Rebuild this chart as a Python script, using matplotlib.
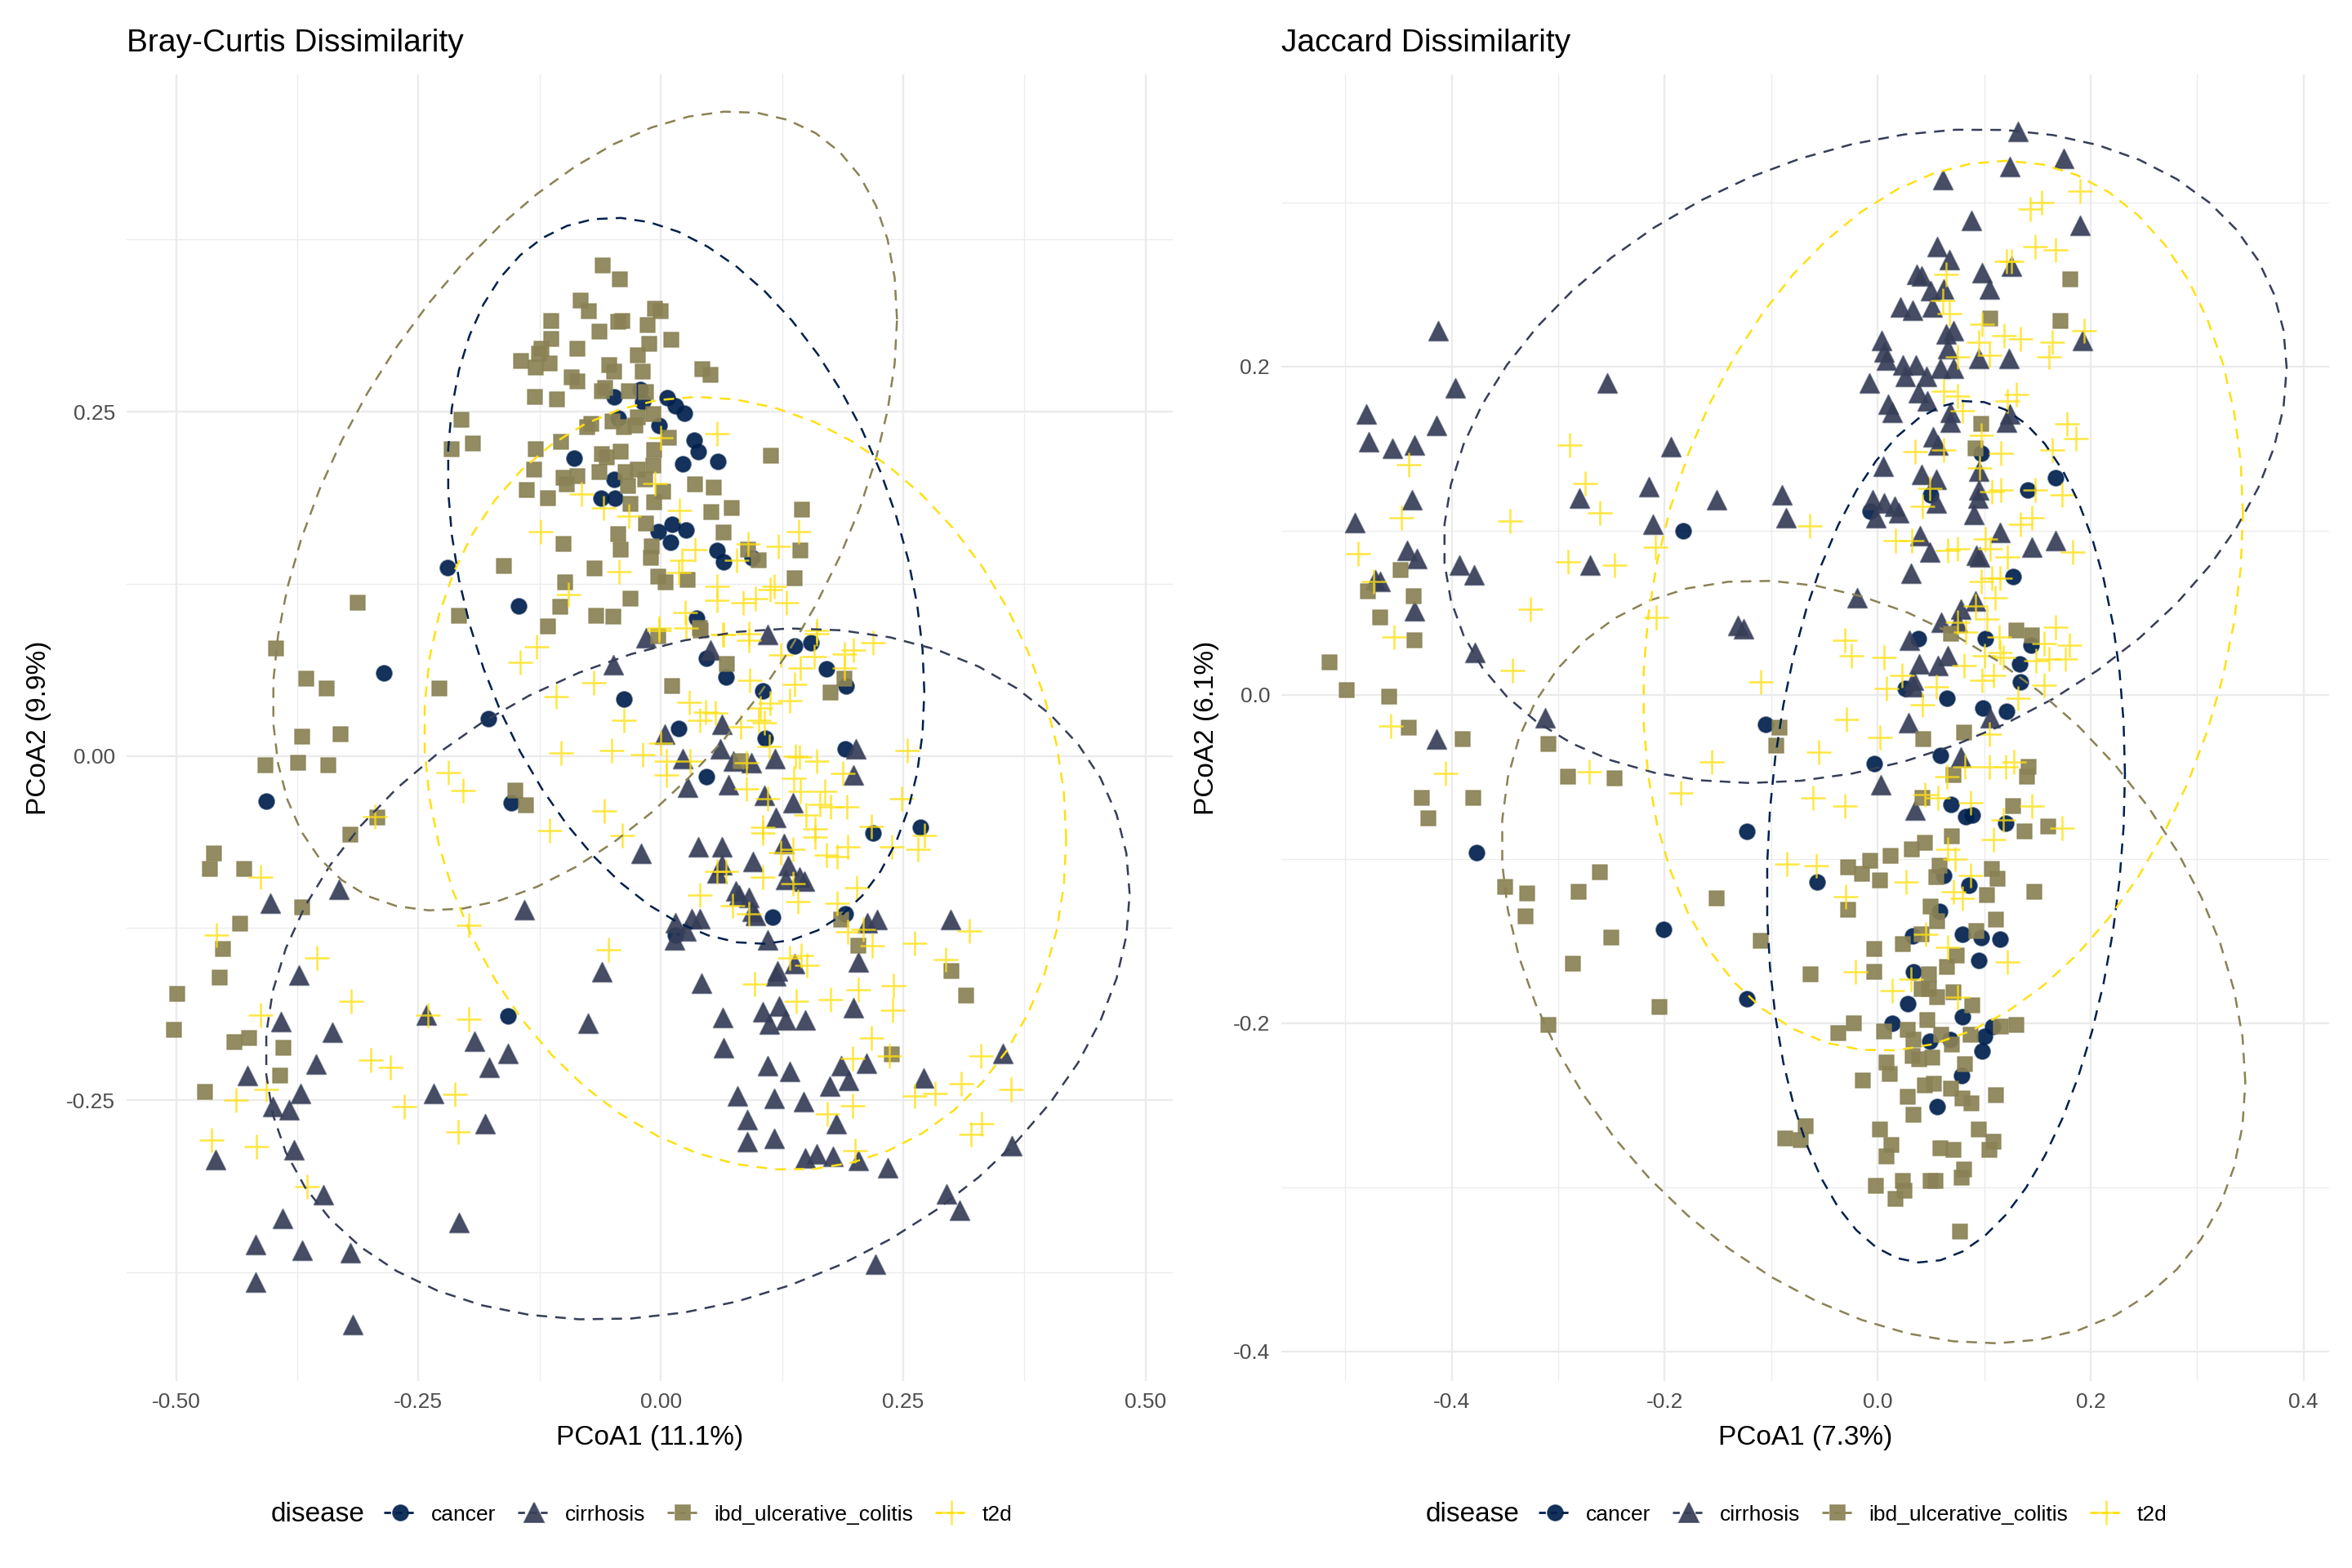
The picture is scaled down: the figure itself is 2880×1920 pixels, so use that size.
import numpy as np
import matplotlib
matplotlib.use("Agg")
import matplotlib.pyplot as plt
from matplotlib.colors import to_rgba
from matplotlib.lines import Line2D

plt.rcParams['font.family'] = ['Liberation Sans', 'DejaVu Sans']

# ---------------- data: Bray-Curtis PCoA ----------------
bc_cancer = [(-0.048, 0.261), (-0.021, 0.266), (-0.019, 0.257), (0.007, 0.260), (0.015, 0.254),
             (0.024, 0.249), (-0.044, 0.245), (-0.002, 0.240), (0.034, 0.229), (0.039, 0.221),
             (-0.089, 0.216), (0.023, 0.212), (0.059, 0.214), (-0.048, 0.201), (-0.062, 0.187),
             (-0.047, 0.187), (0.012, 0.168), (-0.003, 0.163), (0.026, 0.164), (0.010, 0.155),
             (0.058, 0.149), (0.065, 0.141), (0.094, 0.144), (-0.147, 0.109), (0.037, 0.100),
             (0.047, 0.071), (0.067, 0.057), (0.138, 0.080), (0.155, 0.082), (0.171, 0.063),
             (0.191, 0.051), (0.105, 0.047), (-0.038, 0.041), (0.018, 0.020), (0.108, 0.013),
             (0.190, 0.005), (0.047, -0.015), (0.219, -0.056), (0.268, -0.052), (0.115, -0.117),
             (0.190, -0.115), (0.015, -0.130), (-0.220, 0.137), (-0.286, 0.060), (-0.178, 0.027),
             (-0.407, -0.033), (-0.154, -0.034), (-0.158, -0.189)]

bc_cirrhosis = [(-0.015, 0.086), (0.110, 0.088), (0.051, 0.077), (0.004, 0.016), (0.063, 0.023),
                (0.061, 0.005), (0.023, -0.002), (0.075, -0.004), (0.093, -0.005), (0.118, -0.002),
                (0.201, 0.005), (0.199, -0.014), (0.028, -0.023), (0.070, -0.021), (0.107, -0.029),
                (0.136, -0.034), (0.119, -0.045), (-0.020, -0.071), (0.039, -0.066), (0.063, -0.066),
                (0.127, -0.064), (0.095, -0.077), (0.063, -0.079), (0.058, -0.085), (0.131, -0.080),
                (0.129, -0.090), (0.143, -0.088), (0.148, -0.091), (0.077, -0.098), (0.091, -0.103),
                (0.081, -0.101), (0.094, -0.113), (0.098, -0.116), (0.015, -0.121), (0.032, -0.118),
                (0.040, -0.118), (0.026, -0.127), (0.014, -0.134), (0.110, -0.134), (0.213, -0.121),
                (0.223, -0.119), (0.299, -0.119), (0.204, -0.150), (0.138, -0.151), (0.120, -0.156),
                (0.119, -0.160), (0.042, -0.165), (0.199, -0.183), (0.064, -0.190), (0.105, -0.186),
                (0.122, -0.182), (0.112, -0.195), (0.129, -0.192), (0.149, -0.192), (-0.049, 0.066),
                (-0.403, -0.107), (-0.332, -0.097), (-0.141, -0.112), (-0.373, -0.159), (-0.061, -0.157),
                (-0.392, -0.193), (-0.339, -0.201), (-0.242, -0.188), (-0.192, -0.207), (-0.177, -0.226),
                (-0.158, -0.216), (-0.075, -0.194), (-0.426, -0.232), (-0.372, -0.245), (-0.400, -0.255),
                (-0.383, -0.257), (-0.234, -0.245), (-0.181, -0.267), (-0.356, -0.224), (-0.378, -0.286),
                (-0.459, -0.293), (-0.348, -0.319), (-0.390, -0.336), (-0.418, -0.355), (-0.370, -0.359),
                (-0.320, -0.361), (-0.208, -0.339), (-0.418, -0.382), (-0.318, -0.413),
                (0.065, -0.212), (0.110, -0.225), (0.133, -0.229), (0.212, -0.223), (0.186, -0.225),
                (0.194, -0.236), (0.174, -0.240), (0.271, -0.234), (0.353, -0.216), (0.079, -0.247),
                (0.117, -0.249), (0.147, -0.251), (0.089, -0.264), (0.181, -0.267), (0.089, -0.280),
                (0.117, -0.278), (0.149, -0.292), (0.161, -0.289), (0.178, -0.291), (0.204, -0.294),
                (0.234, -0.299), (0.362, -0.283), (0.295, -0.318), (0.308, -0.330), (0.221, -0.369)]

bc_ibd = [(-0.060, 0.356), (-0.042, 0.346), (-0.083, 0.331), (-0.074, 0.323), (-0.006, 0.325),
          (0.000, 0.323), (-0.113, 0.316), (-0.044, 0.315), (-0.040, 0.316), (-0.014, 0.313),
          (-0.063, 0.308), (-0.113, 0.303), (-0.086, 0.296), (-0.012, 0.299), (0.011, 0.302),
          (-0.123, 0.296), (-0.126, 0.292), (-0.144, 0.287), (-0.129, 0.282), (-0.115, 0.285),
          (-0.024, 0.291), (-0.053, 0.284), (-0.048, 0.279), (-0.019, 0.279), (0.043, 0.281),
          (0.051, 0.277), (-0.092, 0.275), (-0.086, 0.272), (-0.130, 0.261), (-0.107, 0.259),
          (-0.061, 0.265), (-0.057, 0.267), (-0.033, 0.265), (-0.015, 0.264), (-0.206, 0.244),
          (-0.194, 0.227), (-0.072, 0.241), (-0.076, 0.239), (-0.050, 0.243), (-0.038, 0.239),
          (-0.026, 0.240), (-0.024, 0.246), (-0.008, 0.248), (0.008, 0.231), (-0.103, 0.228),
          (-0.129, 0.223), (-0.041, 0.221), (-0.061, 0.219), (-0.056, 0.217), (-0.007, 0.222),
          (-0.008, 0.211), (-0.131, 0.208), (-0.100, 0.202), (-0.086, 0.203), (-0.097, 0.197),
          (-0.063, 0.206), (-0.036, 0.206), (-0.024, 0.208), (-0.016, 0.201), (-0.034, 0.196),
          (0.002, 0.192), (0.035, 0.197), (0.055, 0.195), (-0.138, 0.193), (-0.116, 0.187),
          (-0.031, 0.183), (-0.007, 0.184), (0.052, 0.177), (0.073, 0.180), (0.146, 0.179),
          (-0.015, 0.169), (-0.044, 0.161), (-0.041, 0.150), (-0.009, 0.152), (-0.010, 0.144),
          (0.065, 0.162), (0.114, 0.218), (0.144, 0.149), (0.090, 0.150), (0.101, 0.142),
          (-0.100, 0.154), (-0.162, 0.138), (-0.068, 0.136), (-0.099, 0.126), (-0.104, 0.108),
          (-0.067, 0.102), (-0.049, 0.101), (-0.031, 0.114), (-0.003, 0.130), (0.005, 0.126),
          (0.028, 0.128), (0.138, 0.129), (-0.116, 0.094), (0.040, 0.093),
          (-0.003, 0.087), (0.041, 0.091), (0.068, 0.067), (0.012, 0.051), (0.175, 0.046),
          (0.189, 0.056), (0.082, -0.004), (0.186, -0.119), (0.204, -0.138), (0.300, -0.156),
          (0.315, -0.174), (-0.216, 0.223), (-0.313, 0.111), (-0.397, 0.078), (-0.366, 0.056),
          (-0.345, 0.049), (-0.228, 0.049), (-0.330, 0.016), (-0.370, 0.014), (-0.408, -0.007),
          (-0.374, -0.005), (-0.343, -0.007), (-0.208, 0.102), (-0.139, -0.036), (-0.150, -0.025),
          (-0.292, -0.045), (-0.320, -0.057), (-0.461, -0.071), (-0.465, -0.082), (-0.430, -0.082),
          (-0.370, -0.110), (-0.434, -0.122), (-0.452, -0.140), (-0.455, -0.161), (-0.499, -0.173),
          (-0.502, -0.199), (-0.440, -0.208), (-0.425, -0.205), (-0.389, -0.212), (-0.393, -0.232),
          (-0.470, -0.244), (0.238, -0.217)]

bc_t2d = [(0.058, 0.234), (0.000, 0.231), (-0.006, 0.198), (-0.082, 0.190), (-0.059, 0.180),
          (-0.033, 0.174), (0.019, 0.178), (-0.124, 0.163), (0.035, 0.150), (0.022, 0.142),
          (0.090, 0.154), (0.121, 0.152), (0.142, 0.163), (0.078, 0.142), (-0.043, 0.134),
          (0.018, 0.133), (0.058, 0.123), (0.058, 0.113), (0.098, 0.114), (0.113, 0.121),
          (0.117, 0.123), (0.085, 0.111), (0.130, 0.111), (-0.095, 0.117), (0.025, 0.104),
          (-0.002, 0.093), (0.064, 0.088), (0.161, 0.091), (0.091, 0.089),
          (-0.002, 0.091), (0.026, 0.093), (0.065, 0.088), (0.091, 0.084), (0.161, 0.089),
          (0.124, 0.073), (0.158, 0.072), (0.144, 0.064), (0.199, 0.077), (0.189, 0.074),
          (0.219, 0.082), (0.189, 0.064), (0.092, 0.055), (0.138, 0.052), (0.133, 0.040),
          (0.029, 0.039), (0.046, 0.032), (0.056, 0.031), (0.040, 0.026), (0.103, 0.035),
          (0.113, 0.038), (0.101, 0.026), (0.082, 0.021), (0.107, 0.024), (-0.038, 0.026),
          (0.000, 0.009), (-0.019, 0.001), (0.006, -0.004), (0.030, -0.004), (0.006, -0.014),
          (0.088, -0.005), (0.088, -0.024), (0.112, 0.007), (0.139, 0.000), (0.143, -0.001),
          (0.161, -0.004), (0.137, -0.016), (0.144, -0.026), (0.110, -0.031), (0.254, 0.004),
          (0.188, -0.013), (0.169, -0.026), (0.164, -0.035), (0.175, -0.037), (0.192, -0.037),
          (0.248, -0.031), (0.150, -0.043), (0.105, -0.052), (0.105, -0.056), (0.159, -0.053),
          (0.159, -0.059), (0.217, -0.051), (0.124, -0.070), (0.136, -0.068), (0.171, -0.072),
          (0.182, -0.073), (0.193, -0.066), (0.238, -0.066), (0.272, -0.058), (0.265, -0.068),
          (0.058, -0.084), (0.067, -0.084), (0.105, -0.088), (0.136, -0.093), (0.040, -0.101),
          (0.074, -0.109), (0.091, -0.115), (0.141, -0.106), (0.202, -0.096), (0.182, -0.107),
          (0.193, -0.128), (0.209, -0.126), (0.218, -0.138), (0.262, -0.136), (0.318, -0.127),
          (0.294, -0.148), (0.133, -0.147), (0.145, -0.145), (0.151, -0.152), (0.097, -0.166),
          (0.140, -0.178), (0.175, -0.177), (0.204, -0.170), (0.240, -0.167), (0.239, -0.185),
          (-0.145, 0.068), (-0.128, 0.079), (-0.108, 0.043), (-0.069, 0.053), (-0.103, 0.002),
          (-0.051, 0.004), (-0.219, -0.012), (-0.204, -0.025), (-0.295, -0.044), (-0.115, -0.054),
          (-0.040, -0.058), (-0.058, -0.040), (-0.413, -0.088), (-0.458, -0.130), (-0.355, -0.147),
          (-0.198, -0.123), (-0.054, -0.141), (-0.319, -0.178), (-0.413, -0.188), (-0.240, -0.188),
          (-0.198, -0.191), (-0.299, -0.221), (-0.279, -0.226), (-0.407, -0.242), (-0.438, -0.250),
          (-0.212, -0.246), (-0.265, -0.255), (-0.209, -0.273), (-0.463, -0.279), (-0.417, -0.284),
          (-0.365, -0.313), (0.198, -0.220), (0.217, -0.205), (0.236, -0.218), (0.330, -0.218),
          (0.262, -0.247), (0.283, -0.245), (0.310, -0.238), (0.361, -0.242), (0.198, -0.254),
          (0.172, -0.260), (0.320, -0.275), (0.331, -0.267), (0.200, -0.287)]

# ---------------- data: Jaccard PCoA ----------------
jc_cancer = [(0.097, 0.147), (0.167, 0.132), (0.141, 0.125), (0.050, 0.122), (-0.007, 0.112),
             (0.127, 0.072), (0.038, 0.034), (0.101, 0.034), (0.144, 0.030), (0.133, 0.019),
             (0.134, 0.008), (0.026, 0.004), (0.065, -0.002), (0.099, -0.008), (0.121, -0.010),
             (-0.105, -0.018), (-0.003, -0.042), (0.059, -0.037), (0.069, -0.067), (0.083, -0.074),
             (0.089, -0.073), (0.120, -0.078), (-0.123, -0.083), (-0.057, -0.114), (0.062, -0.110),
             (0.086, -0.116), (0.058, -0.132), (0.033, -0.147), (0.080, -0.146), (0.097, -0.148),
             (0.115, -0.149), (0.095, -0.162), (0.034, -0.169), (-0.123, -0.185), (0.028, -0.188),
             (0.014, -0.200), (0.080, -0.196), (0.108, -0.202), (0.100, -0.208), (0.049, -0.211),
             (0.068, -0.210), (0.098, -0.217), (0.079, -0.232), (0.056, -0.251), (-0.183, 0.100),
             (-0.377, -0.096), (-0.201, -0.143)]

jc_cirrhosis = [(0.132, 0.343), (0.175, 0.327), (0.124, 0.322), (0.061, 0.314), (0.088, 0.289),
                (0.190, 0.286), (0.056, 0.273), (0.067, 0.265), (0.037, 0.256), (0.041, 0.255),
                (0.098, 0.257), (0.126, 0.261), (0.050, 0.246), (0.062, 0.247), (0.105, 0.247),
                (0.021, 0.236), (0.033, 0.234), (0.051, 0.236), (0.071, 0.222), (0.064, 0.220),
                (0.066, 0.211), (0.004, 0.216), (0.006, 0.209), (0.008, 0.204), (0.024, 0.201),
                (0.036, 0.201), (0.059, 0.199), (0.071, 0.199), (0.095, 0.205), (0.123, 0.205),
                (0.192, 0.216), (0.026, 0.194), (0.046, 0.194), (-0.008, 0.190), (0.038, 0.184),
                (0.047, 0.179), (0.010, 0.177), (0.014, 0.172), (0.068, 0.172), (0.068, 0.166),
                (0.124, 0.171), (0.121, 0.166), (0.052, 0.157), (0.057, 0.152), (0.005, 0.139),
                (0.041, 0.134), (0.055, 0.131), (0.095, 0.136), (0.095, 0.125), (0.094, 0.120),
                (0.090, 0.110), (-0.090, 0.122), (-0.086, 0.108), (-0.005, 0.119), (0.006, 0.117),
                (0.016, 0.115), (0.020, 0.111), (-0.002, 0.108), (0.055, 0.117),
                (0.040, 0.097), (0.115, 0.099), (0.145, 0.090), (0.167, 0.094), (0.049, 0.087),
                (0.093, 0.085), (0.096, 0.084), (0.031, 0.074), (-0.019, 0.059), (0.092, 0.057),
                (0.078, 0.052), (0.060, 0.044), (0.075, 0.044), (-0.126, 0.040), (0.030, 0.033),
                (0.066, 0.024), (0.039, 0.019), (0.057, 0.018), (0.034, 0.009), (0.034, 0.005),
                (0.106, -0.014), (0.029, -0.017), (0.078, -0.038), (0.003, -0.055), (0.035, -0.070),
                (-0.413, 0.222), (-0.397, 0.187), (-0.480, 0.171), (-0.414, 0.164), (-0.478, 0.154),
                (-0.456, 0.150), (-0.435, 0.152), (-0.254, 0.190), (-0.194, 0.151), (-0.437, 0.119),
                (-0.491, 0.105), (-0.280, 0.120), (-0.215, 0.127), (-0.151, 0.119), (-0.211, 0.104),
                (-0.442, 0.088), (-0.433, 0.083), (-0.393, 0.079), (-0.379, 0.073), (-0.270, 0.079),
                (-0.472, 0.070), (-0.467, 0.069), (-0.435, 0.051), (-0.378, 0.026), (-0.312, -0.014),
                (-0.414, -0.027), (-0.131, 0.042)]

jc_ibd = [(0.181, 0.253), (0.106, 0.229), (0.172, 0.228), (0.097, 0.165), (0.092, 0.150),
          (0.069, 0.037), (0.130, 0.039), (0.145, 0.036), (-0.092, -0.020), (-0.095, -0.031),
          (0.043, -0.027), (0.081, -0.023), (0.142, -0.044), (0.140, -0.050), (0.071, -0.049),
          (0.042, -0.063), (0.127, -0.068), (0.138, -0.083), (0.160, -0.080), (0.070, -0.086),
          (0.044, -0.090), (0.032, -0.094), (0.012, -0.098), (-0.007, -0.101), (-0.028, -0.105),
          (-0.015, -0.109), (0.002, -0.113), (0.058, -0.104), (0.055, -0.111), (0.107, -0.106),
          (0.113, -0.112), (0.103, -0.122), (0.147, -0.120),
          (-0.028, -0.131), (0.050, -0.129), (0.056, -0.138), (0.111, -0.137), (-0.110, -0.150),
          (-0.003, -0.155), (0.024, -0.152), (0.041, -0.146), (0.093, -0.144), (0.074, -0.159),
          (0.065, -0.166), (-0.063, -0.170), (-0.003, -0.169), (0.048, -0.170), (0.041, -0.179),
          (0.048, -0.179), (0.056, -0.184), (0.071, -0.181), (0.089, -0.189), (-0.022, -0.200),
          (-0.037, -0.206), (0.006, -0.205), (0.028, -0.204), (0.034, -0.210), (0.047, -0.198),
          (0.060, -0.207), (0.070, -0.213), (0.087, -0.207), (0.116, -0.202), (0.130, -0.201),
          (0.033, -0.220), (0.051, -0.221), (0.039, -0.222), (0.082, -0.225), (0.008, -0.224),
          (0.011, -0.231), (-0.014, -0.235), (0.044, -0.238), (0.053, -0.237), (0.069, -0.240),
          (0.028, -0.245), (0.080, -0.246), (0.088, -0.249), (0.111, -0.244), (0.034, -0.256),
          (-0.068, -0.263), (-0.087, -0.270), (-0.072, -0.271), (0.002, -0.265), (0.013, -0.274),
          (0.008, -0.281), (0.059, -0.276), (0.071, -0.277), (0.095, -0.265), (0.109, -0.272),
          (0.105, -0.277), (0.081, -0.289), (0.079, -0.294), (0.024, -0.296), (0.025, -0.302),
          (0.017, -0.307), (-0.002, -0.299), (0.050, -0.296), (0.054, -0.296), (0.077, -0.327),
          (-0.448, 0.076), (-0.479, 0.063), (-0.436, 0.060), (-0.467, 0.047), (-0.435, 0.033),
          (-0.515, 0.020), (-0.499, 0.003), (-0.459, -0.001), (-0.440, -0.020), (-0.390, -0.027),
          (-0.309, -0.030), (-0.291, -0.050), (-0.247, -0.051), (-0.428, -0.063), (-0.380, -0.063),
          (-0.422, -0.075), (-0.350, -0.117), (-0.329, -0.121), (-0.331, -0.135), (-0.281, -0.120),
          (-0.261, -0.108), (-0.250, -0.148), (-0.286, -0.164), (-0.205, -0.190), (-0.309, -0.201),
          (-0.151, -0.124)]

jc_t2d = [(0.190, 0.307), (0.154, 0.300), (0.143, 0.296), (0.148, 0.273), (0.167, 0.271),
          (0.121, 0.264), (0.126, 0.264), (0.064, 0.256), (0.061, 0.240), (0.067, 0.232),
          (0.098, 0.226), (0.095, 0.215), (0.119, 0.219), (0.134, 0.217), (0.194, 0.222),
          (0.164, 0.215), (0.161, 0.206), (0.075, 0.206), (0.105, 0.207), (0.062, 0.185),
          (0.075, 0.182), (0.130, 0.183), (0.122, 0.179), (0.080, 0.173), (0.178, 0.165),
          (0.186, 0.156), (0.097, 0.158), (0.035, 0.148), (0.062, 0.149), (0.116, 0.147),
          (0.164, 0.149), (0.096, 0.138), (0.049, 0.126), (0.107, 0.124), (0.116, 0.125),
          (0.148, 0.125), (0.173, 0.122), (0.042, 0.115), (-0.064, 0.103), (0.145, 0.108),
          (0.134, 0.104),
          (0.017, 0.094), (0.032, 0.094), (0.075, 0.089), (0.066, 0.088), (0.101, 0.095),
          (0.106, 0.089), (0.122, 0.084), (0.183, 0.087), (0.097, 0.069), (0.107, 0.071),
          (0.115, 0.071), (0.110, 0.059), (0.092, 0.054), (0.103, 0.046), (0.075, 0.044),
          (0.083, 0.038), (0.114, 0.035), (0.167, 0.041), (0.156, 0.031), (0.180, 0.030),
          (0.115, 0.026), (0.118, 0.023), (0.100, 0.024), (0.149, 0.021), (0.161, 0.022),
          (0.176, 0.022), (0.081, 0.018), (0.109, 0.012), (0.098, 0.009), (0.156, 0.006),
          (0.132, -0.002), (-0.031, 0.033), (-0.025, 0.024), (0.006, 0.023), (0.023, 0.012),
          (0.008, 0.004), (0.055, 0.005), (0.042, -0.006), (-0.110, 0.008), (-0.029, -0.015),
          (0.002, -0.026), (-0.055, -0.035), (0.105, -0.024), (0.082, -0.044), (0.105, -0.044),
          (0.120, -0.044), (0.128, -0.041), (0.065, -0.050), (-0.061, -0.063), (-0.031, -0.068),
          (0.044, -0.061), (0.057, -0.063), (0.087, -0.066), (0.145, -0.068), (0.118, -0.076),
          (0.173, -0.081), (0.109, -0.088), (0.066, -0.094), (0.073, -0.100), (-0.085, -0.103),
          (-0.058, -0.104), (0.027, -0.114), (0.087, -0.110), (-0.030, -0.123), (0.071, -0.120),
          (0.080, -0.124), (0.045, -0.146), (0.066, -0.154), (0.122, -0.163), (-0.021, -0.169),
          (0.014, -0.180), (0.031, -0.173), (0.075, -0.184),
          (-0.440, 0.140), (-0.488, 0.086), (-0.473, 0.069), (-0.447, 0.108), (-0.454, 0.035),
          (-0.457, -0.019), (-0.406, -0.048), (-0.345, 0.106), (-0.326, 0.052), (-0.343, 0.015),
          (-0.289, 0.152), (-0.275, 0.129), (-0.261, 0.111), (-0.291, 0.081), (-0.247, 0.079),
          (-0.209, 0.090), (-0.208, 0.047), (-0.271, -0.047), (-0.156, -0.041), (-0.185, -0.060)]

diseases = ['cancer', 'cirrhosis', 'ibd_ulcerative_colitis', 't2d']
colors = ['#00204D', '#363E58', '#8A8255', '#FFE012']
markers = ['o', '^', 's', '+']
sizes = [46, 72, 44, 110]

panels = [
    dict(title='Bray-Curtis Dissimilarity', xlabel='PCoA1 (11.1%)', ylabel='PCoA2 (9.9%)',
         groups=[bc_cancer, bc_cirrhosis, bc_ibd, bc_t2d],
         xlim=(-0.551, 0.528), ylim=(-0.454, 0.495),
         xticks=[-0.5, -0.25, 0, 0.25, 0.5], xtl=['-0.50', '-0.25', '0.00', '0.25', '0.50'],
         yticks=[-0.25, 0, 0.25], ytl=['-0.25', '0.00', '0.25'],
         xminor=[-0.375, -0.125, 0.125, 0.375], yminor=[-0.375, -0.125, 0.125, 0.375],
         rect=[155 / 2880, 1 - 1691 / 1920, 1281 / 2880, 1600 / 1920],
         ylab_x=-0.072, leg_title_x=332 / 2880, leg_x=470 / 2880),
    dict(title='Jaccard Dissimilarity', xlabel='PCoA1 (7.3%)', ylabel='PCoA2 (6.1%)',
         groups=[jc_cancer, jc_cirrhosis, jc_ibd, jc_t2d],
         xlim=(-0.56, 0.424), ylim=(-0.418, 0.378),
         xticks=[-0.4, -0.2, 0, 0.2, 0.4], xtl=['-0.4', '-0.2', '0.0', '0.2', '0.4'],
         yticks=[-0.4, -0.2, 0, 0.2], ytl=['-0.4', '-0.2', '0.0', '0.2'],
         xminor=[-0.5, -0.3, -0.1, 0.1, 0.3], yminor=[-0.3, -0.1, 0.1, 0.3],
         rect=[1569 / 2880, 1 - 1691 / 1920, 1283 / 2880, 1600 / 1920],
         ylab_x=-0.059, leg_title_x=1746 / 2880, leg_x=1884 / 2880),
]


def cov_trob(x, nu=5, maxit=25, tol=0.01):
    # same as MASS::cov.trob, used by ggplot2 stat_ellipse(type = "t")
    n, p = x.shape
    wt = np.ones(n)
    loc = x.mean(axis=0)
    w = np.sqrt(wt)
    for _ in range(maxit):
        w0 = w
        X = x - loc
        _, d, vt = np.linalg.svd(np.sqrt(w / w.sum())[:, None] * X, full_matrices=False)
        wX = X @ vt.T @ np.diag(1 / d)
        Q = (wX ** 2).sum(axis=1)
        w = (wt * (nu + p)) / (nu + Q)
        loc = (w[:, None] * x).sum(axis=0) / w.sum()
        if np.all(np.abs(w - w0) < tol):
            break
    cov = (np.sqrt(w)[:, None] * X).T @ (np.sqrt(w)[:, None] * X) / wt.sum()
    return loc, cov


def ellipse(pts, level=0.95, segments=51):
    x = np.asarray(pts)
    loc, cov = cov_trob(x)
    dfd = len(x) - 1
    # F quantile with 2 numerator df has a closed form
    fq = dfd / 2 * ((1 - level) ** (-2 / dfd) - 1)
    radius = np.sqrt(2 * fq)
    ang = np.linspace(0, 2 * np.pi, segments + 1)
    circle = np.column_stack([np.cos(ang), np.sin(ang)])
    L = np.linalg.cholesky(cov)
    e = loc + radius * circle @ L.T
    return e[:, 0], e[:, 1]


fig = plt.figure(figsize=(14.4, 9.6), dpi=200)

for pn in panels:
    ax = fig.add_axes(pn['rect'])
    ax.set_xlim(*pn['xlim'])
    ax.set_ylim(*pn['ylim'])
    ax.set_xticks(pn['xticks'])
    ax.set_xticklabels(pn['xtl'])
    ax.set_yticks(pn['yticks'])
    ax.set_yticklabels(pn['ytl'])
    ax.set_xticks(pn['xminor'], minor=True)
    ax.set_yticks(pn['yminor'], minor=True)
    ax.grid(which='major', color='#EBEBEB', lw=0.85)
    ax.grid(which='minor', color='#EBEBEB', lw=0.45)
    ax.set_axisbelow(True)
    for s in ax.spines.values():
        s.set_visible(False)
    ax.tick_params(which='both', length=0, labelsize=9.5, labelcolor='#4D4D4D', pad=5)

    for pts, col, mk, sz in zip(pn['groups'], colors, markers, sizes):
        arr = np.asarray(pts)
        if mk == '+':
            ax.scatter(arr[:, 0], arr[:, 1], s=sz, marker=mk, c=[to_rgba(col, 0.8)],
                       linewidths=0.9, zorder=2)
        else:
            ax.scatter(arr[:, 0], arr[:, 1], s=sz, marker=mk, c=[to_rgba(col, 0.92)],
                       edgecolors=[to_rgba(col, 0.6)], linewidths=0.7, zorder=2)

    for pts, col in zip(pn['groups'], colors):
        ex, ey = ellipse(pts)
        ax.plot(ex, ey, color=col, lw=0.9, ls=(0, (5.2, 4)), zorder=3)

    ax.set_xlabel(pn['xlabel'], fontsize=12)
    ax.set_ylabel(pn['ylabel'], fontsize=12)
    ax.xaxis.set_label_coords(0.5, -0.034)
    ax.yaxis.set_label_coords(pn['ylab_x'], 0.5)
    ax.text(0, 1.024, pn['title'], transform=ax.transAxes, fontsize=14, va='center', ha='left')

    handles = [Line2D([0], [0], color=col, ls=(0, (3, 2)), lw=1.0, marker=mk,
                      markersize=np.sqrt(sz), markeredgewidth=1.0 if mk == '+' else 0.7,
                      markerfacecolor=to_rgba(col, 0.92), markeredgecolor=to_rgba(col, 0.7))
               for col, mk, sz in zip(colors, markers, sizes)]
    fig.text(pn['leg_title_x'], 0.034, 'disease', fontsize=12, va='center', ha='left')
    fig.legend(handles, diseases, loc='center left', bbox_to_anchor=(pn['leg_x'], 0.034),
               ncol=4, frameon=False, fontsize=9.5, handlelength=1.5, handletextpad=0.7,
               columnspacing=1.0, borderpad=0, borderaxespad=0)

fig.savefig('out.png', dpi=200, facecolor='white')
